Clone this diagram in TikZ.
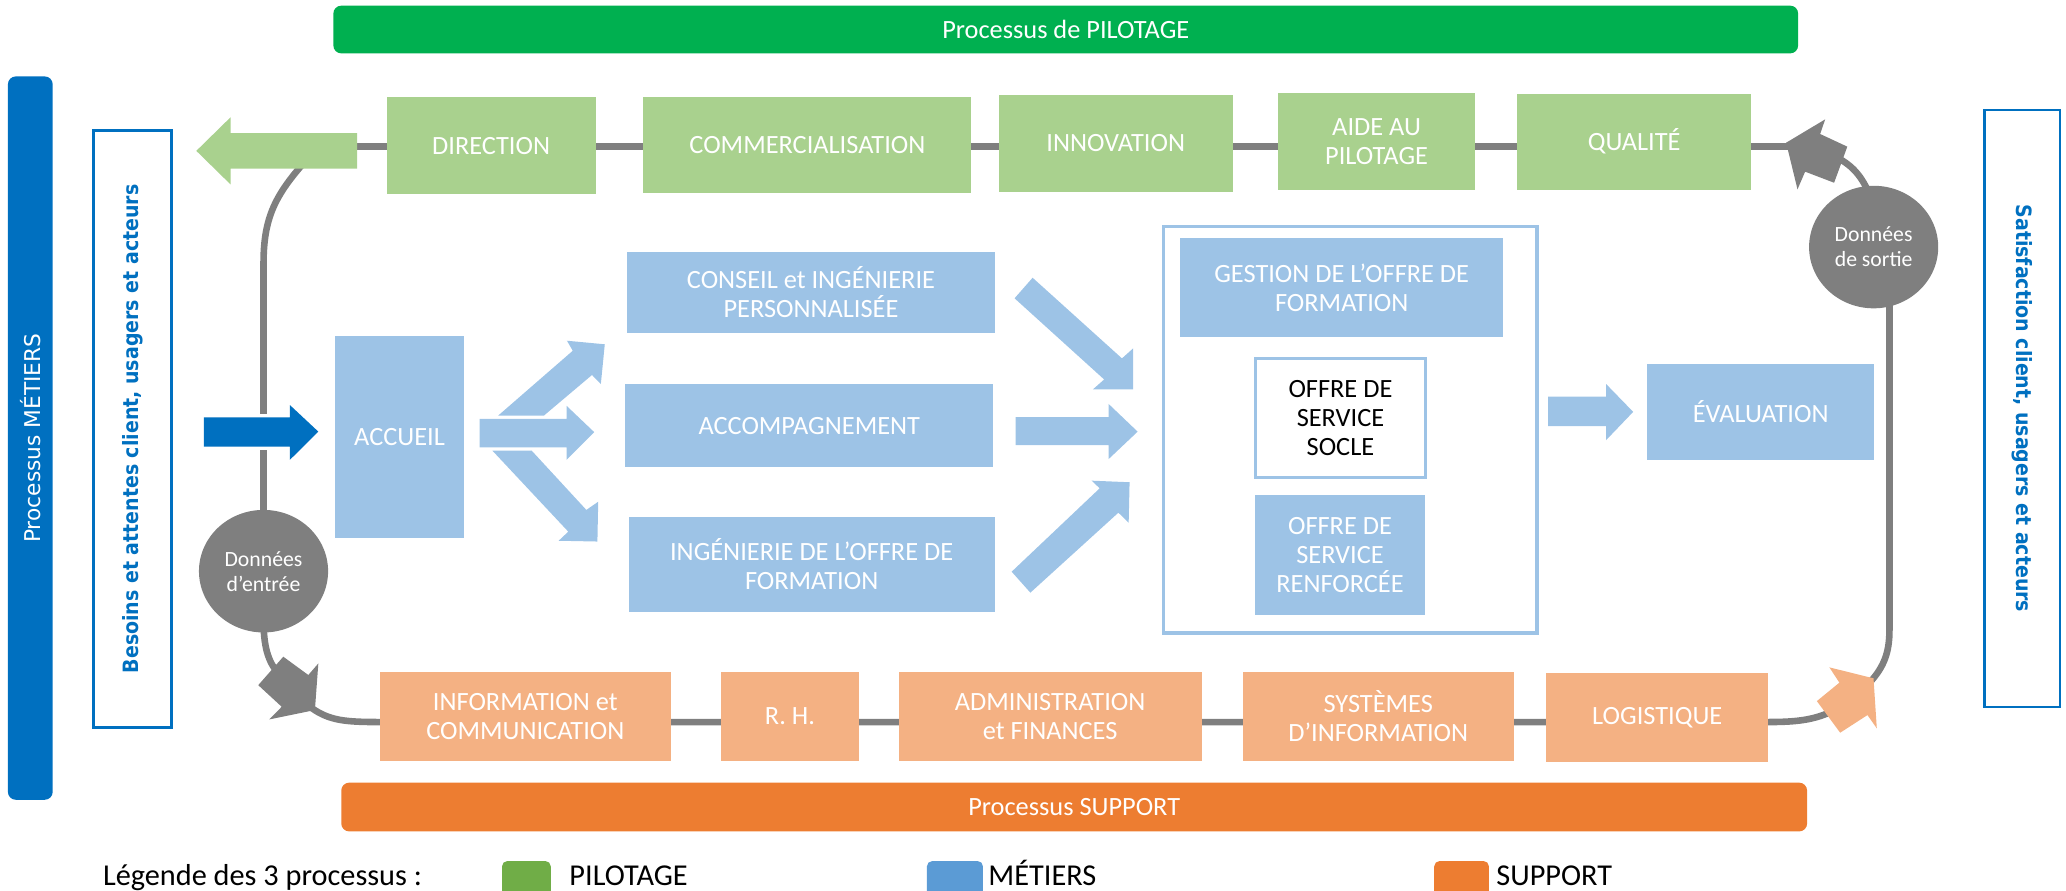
\documentclass[tikz,border=0pt]{standalone}
\usepackage{fontspec}
\setmainfont{Carlito}
\newfontfamily\vfont{DejaVu Sans}
\newfontfamily\vcfont{DejaVu Sans Condensed}
\usetikzlibrary{shapes.geometric}
\pgfdeclarelayer{bg}
\pgfsetlayers{bg,main}
\definecolor{cpilot}{HTML}{00B050}
\definecolor{cpilotbox}{HTML}{A9D18E}
\definecolor{cmetbox}{HTML}{9DC3E6}
\definecolor{csuppbox}{HTML}{F4B183}
\definecolor{csupp}{HTML}{ED7D31}
\definecolor{cdblue}{HTML}{0070C0}
\definecolor{cgray}{HTML}{7F7F7F}
\definecolor{cleggreen}{HTML}{70AD47}
\definecolor{clegblue}{HTML}{5B9BD5}
\begin{document}
\begin{tikzpicture}[x=1pt,y=-1pt,
  procbox/.style={inner sep=0pt, outer sep=0pt, align=center, text=white, font=\fontsize{20}{22}\selectfont},
  pilotbox/.style={procbox, fill=cpilotbox},
  metbox/.style={procbox, fill=cmetbox},
  suppbox/.style={procbox, fill=csuppbox, minimum height=67.5pt},
  loopline/.style={draw=cgray, line width=5pt},
  barnode/.style={rounded corners=6pt, inner sep=0pt, text=white, font=\fontsize{20}{22}\selectfont},
  datanode/.style={ellipse, fill=cgray, text=white, inner sep=0pt, minimum width=98pt, minimum height=93pt, align=center, font=\fontsize{16.5}{19}\selectfont},
  outbox/.style={draw=cdblue, line width=2pt, fill=white, inner sep=0pt},
  vtext/.style={font=\vcfont\bfseries\fontsize{16}{18}\selectfont, text=cdblue},
  legtext/.style={anchor=base west, font=\fontsize{23}{25}\selectfont, text=black, inner sep=0pt},
  legsq/.style={rounded corners=4pt, inner sep=0pt, minimum height=37pt},
]
\useasboundingbox (0,0) rectangle (1568,676);
\clip (0,0) rectangle (1568,676);

% bars
\node[barnode, fill=cpilot, minimum width=1111.7pt, minimum height=36.2pt] (pilotbar) at (808.85,22.4) {Processus de PILOTAGE};
\node[barnode, fill=csupp, minimum width=1112.5pt, minimum height=37pt] (suppbar) at (815.25,612.5) {Processus SUPPORT};
\node[barnode, fill=cdblue, rotate=90, minimum width=549pt, minimum height=34pt, font=\vfont\fontsize{16.5}{18}\selectfont] (metbar) at (23,332.5) {Processus MÉTIERS};

% side boxes
\node[outbox, rotate=90, minimum width=453pt, minimum height=59pt, vtext] (needs) at (100.5,325.5) {Besoins et attentes client, usagers et acteurs};
\node[outbox, rotate=-90, minimum width=453pt, minimum height=57.5pt, vtext] (satis) at (1534.75,310) {Satisfaction client, usagers et acteurs};

% pilotage boxes
\node[pilotbox, minimum width=158.5pt, minimum height=73pt] (dir) at (372.75,110.5) {DIRECTION};
\node[pilotbox, minimum width=249pt, minimum height=72.8pt] (comm) at (612.8,109.8) {COMMERCIALISATION};
\node[pilotbox, minimum width=177.5pt, minimum height=73.5pt] (innov) at (846.75,108.75) {INNOVATION};
\node[pilotbox, minimum width=149.5pt, minimum height=73.2pt] (aide) at (1044.75,107.4) {AIDE AU\\PILOTAGE};
\node[pilotbox, minimum width=177.5pt, minimum height=73pt] (qual) at (1240.25,107.5) {QUALITÉ};

% metiers boxes
\node[metbox, minimum width=97.5pt, minimum height=153.5pt] (accueil) at (303.25,331.75) {ACCUEIL};
\node[metbox, minimum width=279pt, minimum height=61.5pt] (conseil) at (615.5,221.75) {CONSEIL et INGÉNIERIE\\PERSONNALISÉE};
\node[metbox, minimum width=279pt, minimum height=63pt] (accomp) at (614.2,323.1) {ACCOMPAGNEMENT};
\node[metbox, minimum width=278pt, minimum height=72pt] (ingen) at (616,428.4) {INGÉNIERIE DE L’OFFRE DE\\FORMATION};
\node[draw=cmetbox, line width=2.5pt, inner sep=0pt, minimum width=283.5pt, minimum height=308.5pt] (grp) at (1024.75,326.25) {};
\node[metbox, minimum width=245.4pt, minimum height=74.8pt] (gestion) at (1018.3,218.2) {GESTION DE L’OFFRE DE\\FORMATION};
\node[procbox, fill=white, draw=cmetbox, line width=2pt, text=black, minimum width=128.7pt, minimum height=90.5pt] (socle) at (1017.35,317.25) {OFFRE DE\\SERVICE\\SOCLE};
\node[metbox, minimum width=129pt, minimum height=91.5pt] (renf) at (1017,421.25) {OFFRE DE\\SERVICE\\RENFORCÉE};
\node[metbox, minimum width=172.5pt, minimum height=73pt] (eval) at (1336.25,312.5) {ÉVALUATION};

% support boxes
\node[suppbox, minimum width=220.6pt] (info) at (398.7,543.75) {INFORMATION et\\COMMUNICATION};
\node[suppbox, minimum width=105pt] (rh) at (599.5,543.75) {R. H.};
\node[suppbox, minimum width=230pt] (admin) at (797,543.75) {ADMINISTRATION\\et FINANCES};
\node[suppbox, minimum width=206pt] (syst) at (1046,543.75) {SYSTÈMES\\D’INFORMATION};
\node[suppbox, minimum width=168.5pt] (logi) at (1257.75,544.75) {LOGISTIQUE};

% data ellipses
\node[datanode] (din) at (200,433.5) {Données\\d’entrée};
\node[datanode] (dout) at (1422,187.5) {Données\\de sortie};

% named points of the loop
\coordinate (garrE) at (268,111);
\coordinate (qtip) at (1362,111);
\coordinate (garrS) at (232,122);
\coordinate (dinTop) at (200,400);
\coordinate (dinBot) at (200,470);
\coordinate (barrIn) at (212,512);
\coordinate (barrTip) at (236,537);
\coordinate (oarrIn) at (1388,541);
\coordinate (doutBot) at (1434,225);
\coordinate (oarrTip) at (1419,518);
\coordinate (qarrBack) at (1395,120);
\coordinate (doutTop) at (1420,150);

\begin{pgfonlayer}{bg}
\draw[loopline] (garrE) -- (qtip);
\draw[loopline] (garrS) .. controls (209,148) and (200,165) .. (200,200) -- (dinTop);
\draw[loopline] (dinBot) .. controls (200,490) and (203,502) .. (barrIn);
\draw[loopline] (barrTip) .. controls (250,547) and (262,548) .. (info.west |- 0,548) -- (logi.east |- 0,548) .. controls (1365,548) and (1376,546) .. (oarrIn);
\draw[loopline] (doutBot) -- (1434,478) .. controls (1434,495) and (1430,506) .. (oarrTip);
\draw[loopline] (qarrBack) .. controls (1408,127) and (1414,136) .. (doutTop);
\end{pgfonlayer}

% green exit arrow
\fill[cpilotbox] (149,114.5) -- (175,89) -- (175,101) -- (271,101) -- (271,128) -- (175,128) -- (175,140) -- cycle;
% blue entry arrow
\fill[cdblue, preaction={draw=white, line width=5pt}] (154.8,316.8) -- (220,316.8) -- (220,307.4) -- (241.6,327.6) -- (220,349) -- (220,339) -- (154.8,339) -- cycle;
% light blue arrows
\fill[cmetbox] (378,315.5) -- (434.7,266.2) -- (430.3,258.6) -- (459,261.3) -- (456,291.5) -- (449.3,284.6) -- (412.7,315.5) -- cycle;
\fill[cmetbox] (364,318) -- (430,318) -- (430,308) -- (451,328) -- (430,349) -- (430,339.5) -- (364,339.5) -- cycle;
\fill[cmetbox] (373.7,342) -- (403.5,342) -- (445,387) -- (454,380.8) -- (453.4,411) -- (424,410.4) -- (431.3,403.5) -- cycle;
\fill[cmetbox] (783.7,210.8) -- (851.5,272) -- (860,264.4) -- (860,295.5) -- (829.5,295.5) -- (838,288) -- (770,226.4) -- cycle;
\fill[cmetbox] (770.8,316.6) -- (841.4,316.6) -- (841.4,306.6) -- (863.4,327.6) -- (841.4,348.4) -- (841.4,337.8) -- (770.8,337.8) -- cycle;
\fill[cmetbox] (767.8,433.9) -- (782,449.8) -- (848.8,389.1) -- (856.6,396.7) -- (857.3,366) -- (828.5,364.8) -- (834.6,370.6) -- cycle;
\fill[cmetbox] (1175,301) -- (1219,301) -- (1219,291.5) -- (1239.5,312.6) -- (1219,334) -- (1219,323.5) -- (1175,323.5) -- cycle;
% gray loop arrows
\fill[cgray] (1355.6,108.3) -- (1385.2,90.6) -- (1381.4,101.7) -- (1402,111.3) -- (1392,138.7) -- (1370,130.3) -- (1364.2,143.7) -- cycle;
\fill[cgray] (196,520) -- (215,498.4) -- (234,512.3) -- (241.6,503.5) -- (239,538.9) -- (204.4,546) -- (213.8,536.4) -- cycle;
% orange loop arrow
\fill[csuppbox] (1388.4,506.5) -- (1421.9,514.8) -- (1424.4,552.8) -- (1417.3,542.7) -- (1396.6,556.1) -- (1378.9,532.1) -- (1396,518.1) -- cycle;

% legend
\node[legtext] (legt) at (78,672) {Légende des 3 processus :};
\node[legsq, fill=cleggreen, minimum width=37pt] (lsq1) at (399.5,672) {};
\node[legtext] (ltx1) at (432,672) {PILOTAGE};
\node[legsq, fill=clegblue, minimum width=42.5pt] (lsq2) at (724.75,672) {};
\node[legtext] (ltx2) at (750,672) {MÉTIERS};
\node[legsq, fill=csupp, minimum width=41.5pt] (lsq3) at (1109.25,672) {};
\node[legtext] (ltx3) at (1135.5,672) {SUPPORT};
\end{tikzpicture}
\end{document}
